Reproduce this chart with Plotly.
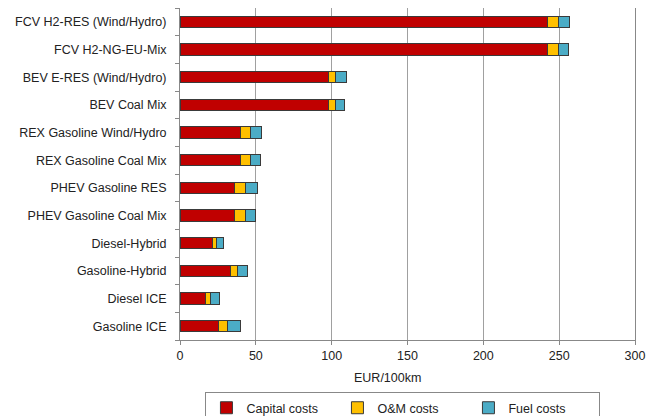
import plotly.graph_objects as go

categories = [
    "FCV H2-RES (Wind/Hydro)",
    "FCV H2-NG-EU-Mix",
    "BEV E-RES (Wind/Hydro)",
    "BEV Coal Mix",
    "REX Gasoline Wind/Hydro",
    "REX Gasoline Coal Mix",
    "PHEV Gasoline RES",
    "PHEV Gasoline Coal Mix",
    "Diesel-Hybrid",
    "Gasoline-Hybrid",
    "Diesel ICE",
    "Gasoline ICE",
]
capital_costs = [242.5, 242.5, 98.0, 98.0, 40.2, 40.2, 35.8, 35.8, 21.5, 33.2, 16.5, 25.5]
om_costs = [7.0, 7.0, 4.4, 4.4, 6.2, 6.2, 7.3, 7.3, 2.7, 4.8, 3.5, 5.9]
fuel_costs = [7.3, 6.5, 7.5, 6.0, 7.4, 6.4, 7.7, 7.0, 4.4, 6.2, 5.9, 8.2]
x_ticks = [0, 50, 100, 150, 200, 250, 300]

series = [
    ("Capital costs", capital_costs, "#C00000"),
    ("O&M costs", om_costs, "#FFC000"),
    ("Fuel costs", fuel_costs, "#4BACC6"),
]

fig = go.Figure()
for name, vals, color in series:
    fig.add_trace(go.Bar(
        y=categories, x=vals, name=name, orientation="h",
        marker=dict(color=color, line=dict(color="#3a3a3a", width=1)),
    ))

font = dict(family="Liberation Sans, Arial, sans-serif", size=12.5, color="#222222")
fig.update_layout(
    barmode="stack",
    width=641, height=408,
    margin=dict(l=172, r=14, t=0, b=76, autoexpand=False),
    paper_bgcolor="white", plot_bgcolor="white",
    font=font,
    bargap=0.6,
    showlegend=True,
    legend=dict(
        orientation="h", x=0.49, xanchor="center", y=-0.157, yanchor="top",
        bordercolor="#888888", borderwidth=1, entrywidth=86,
        font=font, itemwidth=30, traceorder="normal",
    ),
    xaxis=dict(
        range=[0, 300], tickvals=x_ticks, showgrid=True, gridcolor="#a0a0a0", gridwidth=1,
        showline=True, linecolor="#888888", mirror=True, ticks="outside", ticklen=4,
        tickcolor="#888888", zeroline=False, fixedrange=True, automargin=False,
    ),
    yaxis=dict(
        categoryorder="array", categoryarray=categories[::-1],
        showline=True, linecolor="#888888", mirror=True, ticks="outside", ticklen=4,
        tickcolor="#888888", tickson="boundaries", showgrid=False, fixedrange=True,
        automargin=False, ticklabelstandoff=10,
    ),
    annotations=[dict(
        text="EUR/100km", xref="paper", yref="paper", x=0.455, y=-0.115,
        xanchor="center", yanchor="middle", showarrow=False, font=font,
    )],
)

fig.write_html("out.html")
